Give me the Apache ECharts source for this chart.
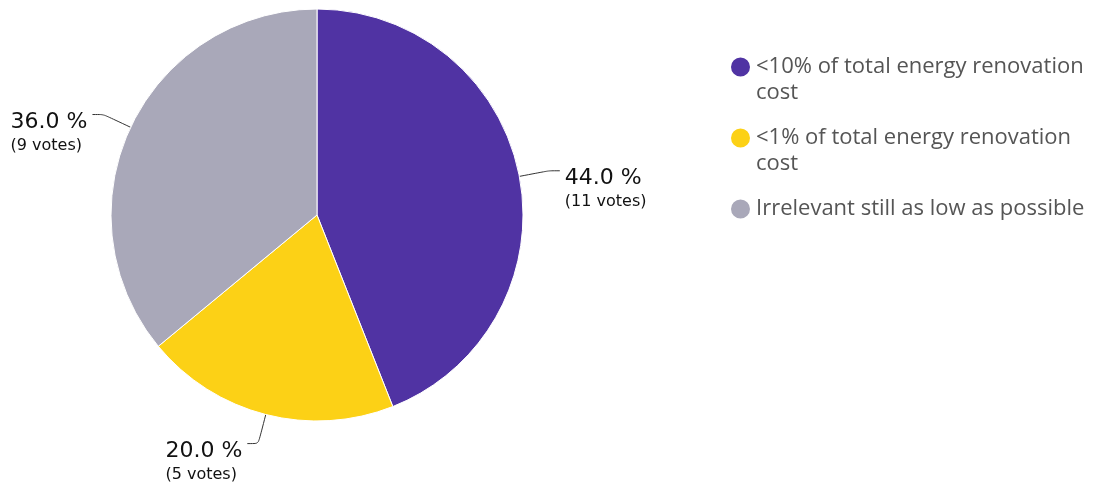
<!DOCTYPE html>
<html>
<head>
<meta charset="utf-8">
<script src="https://cdn.jsdelivr.net/npm/echarts@6/dist/echarts.min.js"></script>
<style>html,body{margin:0;padding:0;background:#fff}#c{width:1094px;height:491px}</style>
</head>
<body>
<div id="c"></div>
<script>
const categories = ['<10% of total energy renovation cost', '<1% of total energy renovation cost', 'Irrelevant still as low as possible'];
const votes = [11, 5, 9];
const colors = ['#5033a3', '#fcd116', '#a9a8b9'];
const legendLines = [2, 2, 1];

const LH = 25.5;
const chart = echarts.init(document.getElementById('c'));
chart.setOption({
  animation: false,
  color: colors,
  legend: {
    orient: 'vertical',
    left: 729,
    top: 28.75,
    padding: 0,
    itemGap: -5.5,
    itemWidth: 21,
    itemHeight: 21,
    icon: 'circle',
    formatter: name => {
      const n = legendLines[categories.indexOf(name)];
      return n === 2 ? '\n' + name : '\n' + name + '\n\u00a0';
    },
    textStyle: {
      fontFamily: 'Open Sans',
      fontSize: 22,
      lineHeight: LH,
      color: '#555',
      width: 340,
      overflow: 'break'
    },
    data: categories
  },
  series: [{
    type: 'pie',
    center: [317, 215],
    radius: 206,
    startAngle: 90,
    clockwise: true,
    percentPrecision: 1,
    itemStyle: { borderColor: '#fff', borderWidth: 1 },
    label: {
      formatter: p => '{a|' + p.percent.toFixed(1) + ' %}\n{b|(' + p.value + ' votes)}',
      padding: [38, 0, 0, 0],
      overflow: 'none',
      rich: {
        a: { fontFamily: 'DejaVu Sans', fontSize: 22, lineHeight: 24, color: '#111', align: 'left' },
        b: { fontFamily: 'DejaVu Sans', fontSize: 16, lineHeight: 23, color: '#111', align: 'left' }
      }
    },
    labelLine: { length: 30, length2: 11, smooth: 0.2, lineStyle: { color: '#333', width: 1 } },
    emphasis: { disabled: true },
    data: categories.map((n, i) => ({ name: n, value: votes[i] }))
  }]
});
</script>
</body>
</html>
